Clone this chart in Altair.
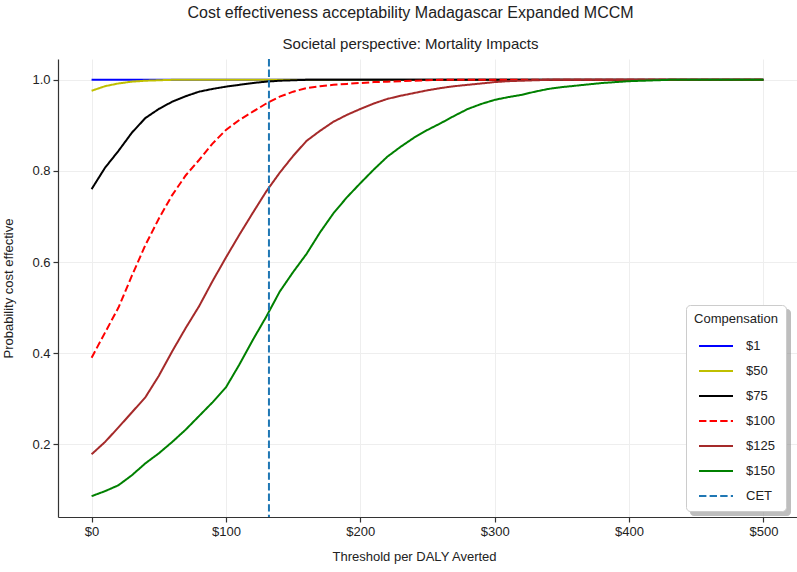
import altair as alt
import pandas as pd

# Willingness-to-pay thresholds (US$ per DALY averted)
thresholds = [0, 10, 20, 30, 40, 50, 60, 70, 80, 90,
              100, 110, 120, 130, 140, 150, 160, 170, 180, 190,
              200, 210, 220, 230, 240, 250, 260, 270, 280, 290,
              300, 310, 320, 330, 340, 350, 360, 370, 380, 390,
              400, 410, 420, 430, 440, 450, 460, 470, 480, 490, 500]

# Probability that the intervention is cost effective, by compensation level
p_comp_1 = [1.0] * 51
p_comp_50 = [0.976, 0.986, 0.992, 0.996, 0.998, 0.999] + [1.0] * 45
p_comp_75 = [0.760, 0.807, 0.844, 0.884, 0.916, 0.936, 0.952, 0.964, 0.974, 0.980,
             0.985, 0.989, 0.993, 0.996, 0.998, 0.999] + [1.0] * 35
p_comp_100 = [0.390, 0.445, 0.500, 0.570, 0.637, 0.695, 0.747, 0.790, 0.824, 0.860,
              0.890, 0.912, 0.930, 0.948, 0.963, 0.974, 0.982, 0.986, 0.989, 0.991,
              0.993, 0.995, 0.996, 0.997, 0.998, 0.999] + [1.0] * 25
p_comp_125 = [0.178, 0.205, 0.237, 0.270, 0.303, 0.350, 0.404, 0.455, 0.503, 0.558,
              0.610, 0.660, 0.708, 0.755, 0.796, 0.833, 0.866, 0.888, 0.908, 0.923,
              0.936, 0.948, 0.958, 0.965, 0.971, 0.977, 0.982, 0.986, 0.989, 0.992,
              0.995, 0.997, 0.998, 0.999] + [1.0] * 17
p_comp_150 = [0.086, 0.097, 0.110, 0.132, 0.158, 0.180, 0.205, 0.232, 0.262, 0.292,
              0.325, 0.375, 0.429, 0.480, 0.535, 0.578, 0.618, 0.665, 0.707, 0.742,
              0.773, 0.803, 0.831, 0.853, 0.873, 0.890, 0.905, 0.921, 0.936, 0.947,
              0.956, 0.962, 0.967, 0.974, 0.980, 0.984, 0.987, 0.990, 0.993, 0.995,
              0.997, 0.998, 0.999] + [1.0] * 8

# Cost-effectiveness threshold
cet_value = 132

series_names = ["$1", "$50", "$75", "$100", "$125", "$150", "CET"]
series_colors = ["#0000ff", "#bfbf00", "#000000", "#ff0000", "#a52a2a", "#008000", "#1f77b4"]
series_dashes = [[1, 0], [1, 0], [1, 0], [7.4, 3.2], [1, 0], [1, 0], [7.4, 3.2]]

curves = {
    "$1": p_comp_1, "$50": p_comp_50, "$75": p_comp_75,
    "$100": p_comp_100, "$125": p_comp_125, "$150": p_comp_150,
}
rows = []
for order, (name, vals) in enumerate(curves.items()):
    for t, p in zip(thresholds, vals):
        rows.append({"threshold": t, "prob": p, "series": name, "order": order})
df = pd.DataFrame(rows)
cet_df = pd.DataFrame({"threshold": [cet_value], "series": ["CET"]})

FONT = "Liberation Sans Narrow, Liberation Sans, Arial, sans-serif"

color_scale = alt.Scale(domain=series_names, range=series_colors)
dash_scale = alt.Scale(domain=series_names, range=series_dashes)
legend = alt.Legend(
    title="Compensation", orient="none", legendX=628, legendY=246,
    symbolType="M-1,0H1", symbolSize=1156, symbolStrokeWidth=2,
    fillColor="white", strokeColor="#cccccc", cornerRadius=4, padding=8,
    labelFontSize=13, titleFontSize=13, titleFontWeight="normal",
    titleAnchor="middle", titlePadding=2, labelOffset=12, rowPadding=0,
    labelFont=FONT, titleFont=FONT, labelColor="#222", titleColor="#222",
)

x_enc = alt.X("threshold:Q", scale=alt.Scale(domain=[-25, 525], nice=False, zero=False),
              axis=alt.Axis(values=[0, 100, 200, 300, 400, 500],
                            labelExpr="'$' + datum.value",
                            title="Threshold per DALY Averted", titlePadding=12,
                            titleX=356))

lines = alt.Chart(df).mark_line(strokeWidth=2).encode(
    x=x_enc,
    y=alt.Y("prob:Q", scale=alt.Scale(domain=[0.0403, 1.0457], nice=False, zero=False),
            axis=alt.Axis(values=[0.2, 0.4, 0.6, 0.8, 1.0], format=".1f",
                          title="Probability cost effective", titlePadding=16)),
    color=alt.Color("series:N", scale=color_scale, legend=legend),
    strokeDash=alt.StrokeDash("series:N", scale=dash_scale, legend=legend),
    order="order:Q",
    detail="series:N",
)

cet_rule = alt.Chart(cet_df).mark_rule(strokeWidth=2).encode(
    x="threshold:Q",
    color=alt.Color("series:N", scale=color_scale, legend=legend),
    strokeDash=alt.StrokeDash("series:N", scale=dash_scale, legend=legend),
)

# soft drop shadow behind the legend box
legend_shadow = alt.Chart(cet_df).mark_rect(cornerRadius=4, color="#888888", opacity=0.55).encode(
    x=alt.value(632), x2=alt.value(733), y=alt.value(250), y2=alt.value(457),
)

chart = alt.layer(lines, cet_rule, legend_shadow).properties(
    width=739, height=458,
    padding={"left": 58, "top": 59, "right": 0, "bottom": 55},
    autosize="none",
    title=alt.Title(
        "Cost effectiveness acceptability Madagascar Expanded MCCM",
        subtitle="Societal perspective: Mortality Impacts",
        fontSize=16, subtitleFontSize=15, fontWeight="normal",
        font=FONT, subtitleFont=FONT, color="#222", subtitleColor="#222",
        anchor="middle", dx=-17, subtitlePadding=16, offset=6,
    ),
).configure_view(stroke=None).configure_axis(
    domainColor="#333333", domainWidth=1.2, tickColor="#333333", tickSize=5,
    tickWidth=1.2, gridColor="#eeeeee", gridWidth=1,
    labelFont=FONT, titleFont=FONT, labelFontSize=13, titleFontSize=13,
    titleFontWeight="normal", labelColor="#222", titleColor="#222", labelPadding=3,
)

chart.save("out.html", embed_options={"renderer": "svg", "actions": False})
